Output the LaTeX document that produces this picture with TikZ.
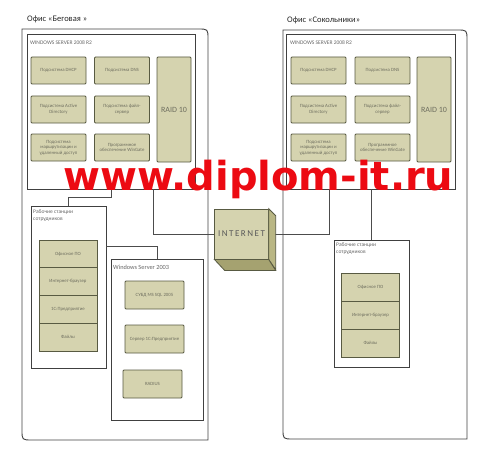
\documentclass[tikz,border=0pt]{standalone}
\usepackage{fontspec}
\setmainfont{Carlito}
\newfontfamily\wmfont{DejaVu Sans}
\definecolor{boxfill}{RGB}{213,211,175}
\definecolor{boxline}{RGB}{88,90,66}
\definecolor{lbl}{RGB}{110,110,95}
\definecolor{sidefill}{RGB}{185,182,132}
\definecolor{botfill}{RGB}{165,162,112}
\definecolor{wm}{RGB}{236,10,18}
\begin{document}
\begin{tikzpicture}[x=1pt, y=-1pt,
    sub/.style={draw=boxline, line width=0.8pt, fill=boxfill, rounded corners=1pt,
        text=lbl, font=\fontsize{4.8}{5.6}\selectfont, align=center, inner sep=1pt,
        minimum width=55pt, minimum height=27pt},
    cell/.style={draw=boxline, line width=0.8pt, fill=boxfill,
        text=lbl, font=\fontsize{4.8}{5.6}\selectfont, align=center, inner sep=1pt,
        minimum width=58pt, minimum height=27.75pt},
    frame/.style={draw=black!75, line width=0.8pt, fill=white, inner sep=0pt},
    ttl/.style={anchor=west, inner sep=0pt, text=black!60, font=\fontsize{5.5}{6.6}\selectfont},
    office/.style={anchor=west, inner sep=0pt, text=black!85, font=\fontsize{8.5}{10}\selectfont},
    wire/.style={draw=black!70, line width=0.7pt}]
    \useasboundingbox (0,0) rectangle (493,460);

    % office frames
    \draw[black!75, line width=0.9pt] (22,29) -- (198,29) .. controls (208,29) .. (208,39)
        -- (208,440) -- (32,440) .. controls (22,440) .. (22,430) -- cycle;
    \draw[black!75, line width=0.9pt] (283,30) -- (457,30) .. controls (467,30) .. (467,40)
        -- (467,439) -- (293,439) .. controls (283,439) .. (283,429) -- cycle;
    \node[office] (offL) at (27,19) {Офис «Беговая »};
    \node[office] (offR) at (287,20) {Офис «Сокольники»};

    % Беговая
    \node[frame, minimum width=168pt, minimum height=155pt] (ws8L) at (111,111.5) {};
    \node[ttl] (ws8Lt) at (30,43) {WINDOWS SERVER 2008 R2};
    \node[sub] (dhcpL) at (58.5,70.5) {Подсистема DHCP};
    \node[sub] (dnsL) at (122,70.5) {Подсистема DNS};
    \node[sub] (adL) at (58.5,109.5) {Подсистема Active\\Directory};
    \node[sub] (fsL) at (122,109.5) {Подсистема файл-\\сервер};
    \node[sub] (rasL) at (58.5,147.5) {Подсистема\\маршрутизации и\\удаленный доступ};
    \node[sub] (wgL) at (122,147.5) {Программное\\обеспечение WinGate};
    \node[sub, minimum width=34pt, minimum height=105pt, font=\fontsize{8}{9}\selectfont] (raidL) at (174,109.5) {RAID 10};

    \node[frame, minimum width=75pt, minimum height=162pt] (wstL) at (68.5,287) {};
    \node[ttl, anchor=north west, align=left] (wstLt) at (33,210) {Рабочие станции\\сотрудников};
    \node[cell] (offsL) at (68,253.9) {Офисное ПО};
    \node[cell] (brL) at (68,281.6) {Интернет-браузер};
    \node[cell] (ocL) at (68,309.4) {1С:Предприятие};
    \node[cell] (fileL) at (68,337.1) {Файлы};

    \node[frame, minimum width=92pt, minimum height=161pt] (ws3) at (157,339.5) {};
    \node[ttl, font=\fontsize{6.3}{7.5}\selectfont] (ws3t) at (113,267) {Windows Server 2003};
    \node[sub, minimum width=59pt, minimum height=28pt] (sql) at (154.5,295) {СУБД MS SQL 2005};
    \node[sub, minimum width=59pt, minimum height=28pt] (srv1c) at (154.5,339) {Сервер 1С:Предприятие};
    \node[sub, minimum width=59pt, minimum height=28pt] (radius) at (152.5,384) {RADIUS};

    % Сокольники
    \node[frame, minimum width=169pt, minimum height=155pt] (ws8R) at (370.5,111.5) {};
    \node[ttl] (ws8Rt) at (290,43) {WINDOWS SERVER 2008 R2};
    \node[sub] (dhcpR) at (318.5,70.5) {Подсистема DHCP};
    \node[sub] (dnsR) at (382.5,70.5) {Подсистема DNS};
    \node[sub] (adR) at (318.5,109.5) {Подсистема Active\\Directory};
    \node[sub] (fsR) at (382.5,109.5) {Подсистема файл-\\сервер};
    \node[sub] (rasR) at (318.5,147.5) {Подсистема\\маршрутизации и\\удаленный доступ};
    \node[sub] (wgR) at (382.5,147.5) {Программное\\обеспечение WinGate};
    \node[sub, minimum width=34pt, minimum height=105pt, font=\fontsize{8}{9}\selectfont] (raidR) at (434,109.5) {RAID 10};

    \node[frame, minimum width=75pt, minimum height=127pt] (wstR) at (371.5,303.5) {};
    \node[ttl, anchor=north west, align=left] (wstRt) at (336,243) {Рабочие станции\\сотрудников};
    \node[cell, minimum height=28pt] (offsR) at (370.5,287) {Офисное ПО};
    \node[cell, minimum height=28pt] (brR) at (370.5,315) {Интернет-браузер};
    \node[cell, minimum height=28pt] (fileR) at (370.5,343) {Файлы};

    % links
    \draw[wire] (ws8L.south) -- ++(0,8) -| (wstL.north);
    \draw[wire] ([yshift=-41pt]wstL.north east) -| (ws3.north);
    \draw[wire] (ws8L.south -| 153,0) |- (240,234);
    \draw[wire] (240,234) -| (ws8R.south -| 329,0);
    \draw[wire] (ws8R.south -| wstR.north) -- (wstR.north);

    % internet
    \node[draw=boxline, line width=0.8pt, fill=boxfill, minimum width=51pt, minimum height=50pt,
        text=black!65, font=\fontsize{9}{10}\selectfont] (inet) at (241.5,234) {I\,N\,T\,E\,R\,N\,E\,T};
    \draw[boxline, line width=0.8pt, fill=sidefill] (inet.north east) -- ++(7,7) -- ++(0,54) -- (inet.south east) -- cycle;
    \draw[boxline, line width=0.8pt, fill=botfill] (inet.south west) -- (inet.south east) -- ++(7,11) -- ++(-51,0) -- cycle;

    \node[anchor=base west, inner sep=0pt, text=wm, font=\wmfont\bfseries\fontsize{40}{42}\selectfont] (wmark) at (63,190) {www.diplom-it.ru};
\end{tikzpicture}
\end{document}
